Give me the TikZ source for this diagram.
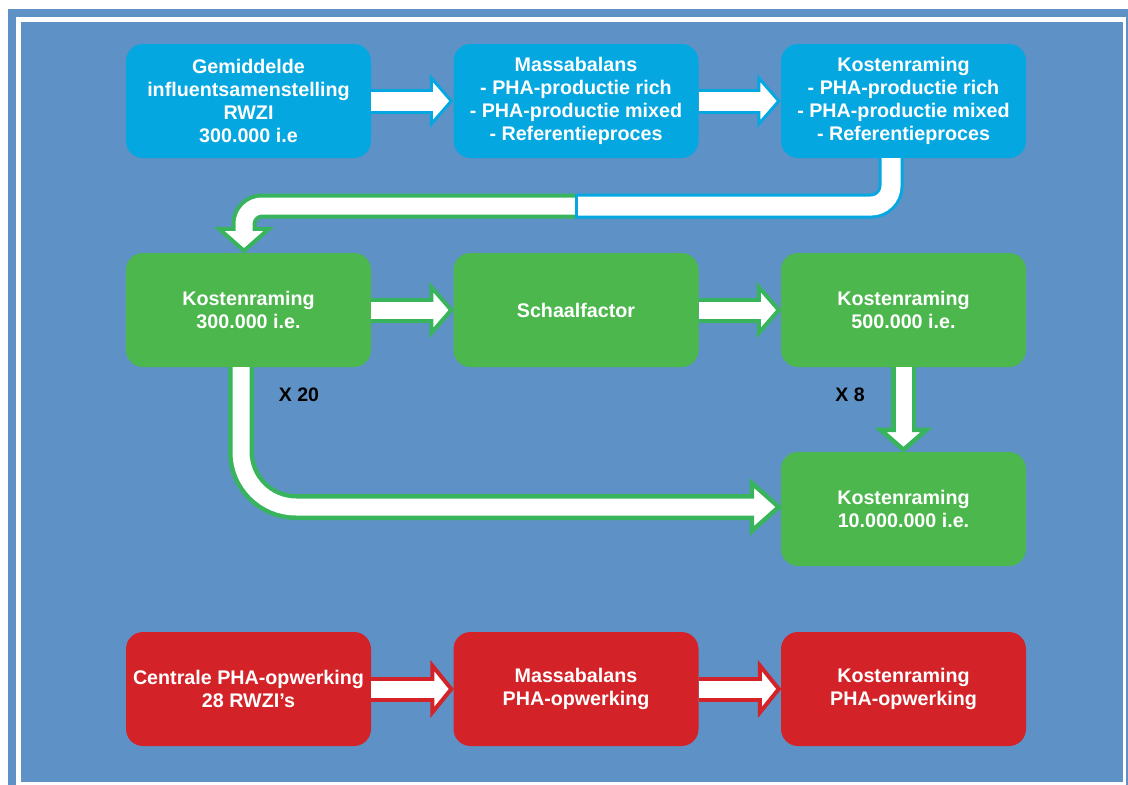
\documentclass[tikz,border=0pt]{standalone}
\usepackage{fontspec}
\setmainfont{Liberation Sans}
\usetikzlibrary{calc}

\definecolor{framebg}{RGB}{94,146,199}
\definecolor{boxcyan}{RGB}{5,167,224}
\definecolor{boxgreen}{RGB}{76,183,77}
\definecolor{arrgreen}{RGB}{56,180,92}
\definecolor{boxred}{RGB}{211,35,40}

% arrow heads: colour, outline width, tip, length, half width
\newcommand\headright[5]{%
  \filldraw[draw=#1, fill=white, line width=#2, line join=miter]
    ([xshift=-#4, yshift=#5]#3) -- ([xshift=-2pt]#3) -- ([xshift=-#4, yshift=-#5]#3) -- cycle;}
\newcommand\headdown[5]{%
  \filldraw[draw=#1, fill=white, line width=#2, line join=miter]
    ([xshift=-#5, yshift=#4]#3) -- ([yshift=2pt]#3) -- ([xshift=#5, yshift=#4]#3) -- cycle;}

% straight block arrows: colour, outline, from, tip, head length, head half width
\newcommand\blockright[6]{%
  \draw[#1, line width=25pt] (#3) -- ([xshift=-#5+2pt]#4);
  \headright{#1}{#2}{#4}{#5}{#6}
  \draw[white, line width=25pt-2*#2] (#3) -- ([xshift=-#5+3pt]#4);}
\newcommand\blockdown[6]{%
  \draw[#1, line width=25pt] (#3) -- ([yshift=#5-2pt]#4);
  \headdown{#1}{#2}{#4}{#5}{#6}
  \draw[white, line width=25pt-2*#2] (#3) -- ([yshift=#5-3pt]#4);}

\begin{document}
\begin{tikzpicture}[x=1pt, y=-1pt,
  box/.style={rounded corners=17pt, minimum width=245pt, minimum height=114pt,
    inner sep=0pt, align=center, text=white,
    font=\fontsize{19.7}{23}\selectfont\bfseries},
  factor/.style={inner sep=0pt, text=black, font=\fontsize{19.5}{23}\selectfont\bfseries}]

\useasboundingbox (0,0) rectangle (1128,785);

% frame
\fill[white] (0,0) rectangle (1128,785);
\fill[framebg] (8,9) rectangle (1128,785);
\fill[white] (16,17) rectangle (1126,785);
\fill[framebg] (21,22) rectangle (1123,782);

% first row
\node[box, fill=boxcyan] (b1) at (248.5,101) {Gemiddelde\\influentsamenstelling\\RWZI\\300.000 i.e};
\node[box, fill=boxcyan] (b2) at (576,101) {Massabalans\\- PHA-productie rich\\- PHA-productie mixed\\- Referentieproces};
\node[box, fill=boxcyan] (b3) at (903.5,101) {Kostenraming\\- PHA-productie rich\\- PHA-productie mixed\\- Referentieproces};

% second row
\node[box, fill=boxgreen] (g1) at (248.5,310) {Kostenraming\\300.000 i.e.};
\node[box, fill=boxgreen] (g2) at (576,310) {Schaalfactor};
\node[box, fill=boxgreen] (g3) at (903.5,310) {Kostenraming\\500.000 i.e.};
\node[box, fill=boxgreen] (g4) at (903.5,509) {Kostenraming\\10.000.000 i.e.};

% third row
\node[box, fill=boxred] (r1) at (248.5,689) {Centrale PHA-opwerking\\28 RWZI’s};
\node[box, fill=boxred] (r2) at (576,689) {Massabalans\\PHA-opwerking};
\node[box, fill=boxred] (r3) at (903.5,689) {Kostenraming\\PHA-opwerking};

% straight arrows
\blockright{boxcyan}{3pt}{b1.east}{b2.west}{22pt}{23pt}
\blockright{boxcyan}{3pt}{b2.east}{b3.west}{22pt}{23pt}
\blockright{arrgreen}{4pt}{g1.east}{g2.west}{22pt}{23pt}
\blockright{arrgreen}{4pt}{g2.east}{g3.west}{22pt}{23pt}
\blockdown{arrgreen}{4.5pt}{g3.south}{g4.north}{22pt}{23pt}
\blockright{boxred}{4pt}{r1.east}{r2.west}{21pt}{23.5pt}
\blockright{boxred}{4pt}{r2.east}{r3.west}{21pt}{23.5pt}

% bent arrow from the first row down to the second row
\path ([xshift=-12.5pt]b3.south) coordinate (c1a)
      ([xshift=-4.5pt]g1.north) coordinate (c1b);
\coordinate (c1y) at (0,206);
\coordinate (c1split) at (575,206);
\draw[arrgreen, line width=25pt, rounded corners=18pt]
  (c1split) -- (c1b |- c1y) -- ([yshift=22pt]c1b);
\headdown{arrgreen}{4pt}{c1b}{24pt}{25pt}
\draw[white, line width=17pt, rounded corners=18pt]
  (c1split) -- (c1b |- c1y) -- ([yshift=21pt]c1b);
\draw[boxcyan, line width=25pt, rounded corners=20pt]
  (c1a) -- (c1a |- c1y) -- (c1split);
\draw[white, line width=19pt, rounded corners=20pt]
  (c1a) -- (c1a |- c1y) -- ([xshift=3pt]c1split);

% long bent arrow to the last green box
\path ([xshift=-7.5pt]g1.south) coordinate (c2a)
      ([yshift=2pt]g4.west) coordinate (c2b);
\draw[arrgreen, line width=26pt, rounded corners=55pt]
  (c2a) -- (c2a |- c2b) -- ([xshift=-26pt]c2b);
\headright{arrgreen}{4.5pt}{c2b}{29pt}{24pt}
\draw[white, line width=17pt, rounded corners=55pt]
  (c2a) -- (c2a |- c2b) -- ([xshift=-26pt]c2b);

% factors
\node[factor] (x20) at (299,395) {X 20};
\node[factor] (x8) at (850,395) {X 8};

\end{tikzpicture}
\end{document}
